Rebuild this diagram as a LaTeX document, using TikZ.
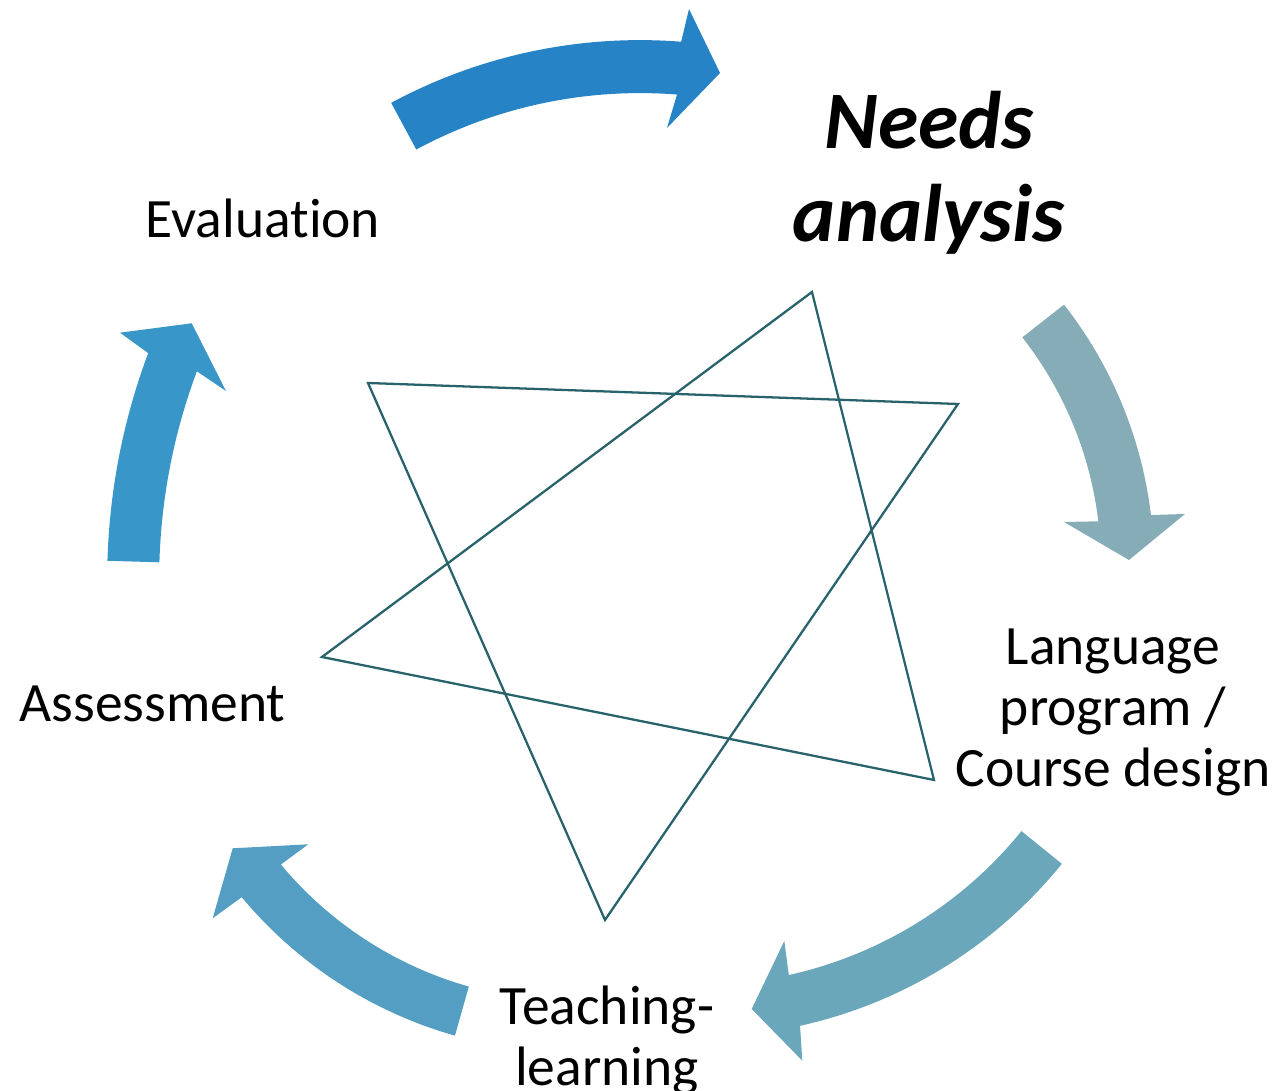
\documentclass[tikz,border=0pt]{standalone}
\usepackage{fontspec}
\setmainfont{Carlito}[Ligatures=NoCommon]
\usetikzlibrary{calc}
\definecolor{arrA}{RGB}{38,132,198}
\definecolor{arrB}{RGB}{134,173,183}
\definecolor{arrC}{RGB}{107,167,187}
\definecolor{arrD}{RGB}{83,158,194}
\definecolor{arrE}{RGB}{56,150,200}
\definecolor{starc}{RGB}{40,99,107}
% block arc arrow: colour, centre, start angle, end angle, outer r, inner r, outer barb, tip, inner barb
\newcommand\blockarc[9]{\fill[#1] ($(#2)+(#3:#5)$) arc[start angle=#3, end angle=#4, radius=#5] -- (#7) -- (#8) -- (#9) -- ($(#2)+(#4:#6)$) arc[start angle=#4, end angle=#3, radius=#6] -- cycle;}
\begin{document}
\begin{tikzpicture}[x=0.02cm,y=0.02cm,
  lbl/.style={inner sep=0pt, anchor=base, font=\fontsize{31.6}{34.6}\selectfont},
  keylbl/.style={inner sep=0pt, anchor=base, font=\fontsize{46.5}{52.9}\selectfont\bfseries\itshape},
  starline/.style={draw=starc, line width=1.3pt, line join=miter}]
\useasboundingbox (0,0) rectangle (1276,1091);
% arc centres
\coordinate (c1) at (640,526);
\coordinate (c2) at (732,526);
\coordinate (c3) at (699,521);
\coordinate (c4) at (572,469);
\coordinate (c5) at (755,511);
% arrows
\blockarc{arrA}{c1}{118.3}{85.5}{10.5cm}{9.44cm}{689,1082}{720,1018}{667,963}
\blockarc{arrB}{c2}{38.1}{6.8}{8.44cm}{7.38cm}{1185,577}{1129,531}{1064,569}
\blockarc{arrC}{c3}{-39}{-77.5}{9.34cm}{8.3cm}{802.3,30.3}{751.7,82}{784.3,150}
\blockarc{arrD}{c4}{-105.8}{-140.2}{8.6cm}{7.58cm}{212.7,172.7}{232.7,242.7}{308.3,246.7}
\blockarc{arrE}{c5}{178.3}{159.5}{12.96cm}{11.92cm}{120,758.3}{191.7,767.7}{226,700}
% star (two triangles)
\coordinate (sT) at (812,799);
\coordinate (sR) at (958,687);
\coordinate (sBR) at (934,311);
\coordinate (sB) at (605,171);
\coordinate (sL) at (322,434);
\coordinate (sUL) at (368,708);
\draw[starline] (sUL) -- (sR) -- (sB) -- cycle;
\draw[starline] (sT) -- (sBR) -- (sL) -- cycle;
% labels
\node[keylbl] (needs) at (929,942.5) {\begin{tabular}[t]{@{}c@{}}Needs\\analysis\end{tabular}};
\node[lbl] (design) at (1113,426) {\begin{tabular}[t]{@{}c@{}}Language\\program /\\Course design\end{tabular}};
\node[lbl] (teach) at (607,66) {\begin{tabular}[t]{@{}c@{}}Teaching-\\learning\end{tabular}};
\node[lbl] (assess) at (152.5,369) {Assessment};
\node[lbl] (eval) at (263,853) {Evaluation};
\end{tikzpicture}
\end{document}
